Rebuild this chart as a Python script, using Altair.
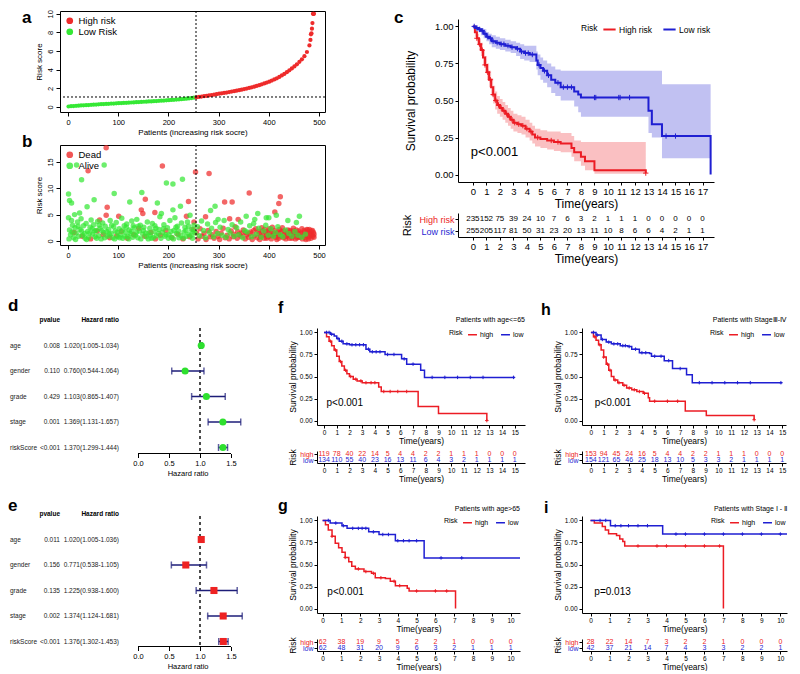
import altair as alt
import pandas as pd

FONT = "Liberation Sans"
KM_RED = "#ec1c24"
KM_BLUE = "#1f1fd2"
DOT_RED = "#ee2b2b"
DOT_GREEN = "#35e835"
NAVY = "#1d1d78"
PLUS = "M-1,0L1,0M0,-1L0,1"

# ---------------- panel a : sorted risk scores ----------------
a_low_patients = list(range(1, 256, 5))
a_low_scores = [0.05, 0.08, 0.10, 0.12, 0.14, 0.16, 0.18, 0.19, 0.21, 0.23,
                0.25, 0.26, 0.28, 0.30, 0.31, 0.33, 0.34, 0.36, 0.37, 0.39,
                0.40, 0.42, 0.43, 0.45, 0.46, 0.48, 0.49, 0.51, 0.52, 0.54,
                0.56, 0.57, 0.59, 0.60, 0.62, 0.64, 0.66, 0.67, 0.69, 0.71,
                0.73, 0.75, 0.77, 0.79, 0.81, 0.83, 0.86, 0.89, 0.92, 0.95, 0.99]
a_high_patients = list(range(256, 487, 5)) + [483, 484, 485, 487, 488, 489, 490]
a_high_scores = [1.04, 1.08, 1.12, 1.16, 1.20, 1.24, 1.28, 1.32, 1.37, 1.42,
                 1.46, 1.50, 1.55, 1.60, 1.65, 1.70, 1.75, 1.80, 1.86, 1.92,
                 1.98, 2.04, 2.11, 2.18, 2.26, 2.34, 2.43, 2.52, 2.62, 2.72,
                 2.83, 2.95, 3.08, 3.22, 3.38, 3.55, 3.73, 3.93, 4.13, 4.35,
                 4.58, 4.84, 5.12, 5.45, 5.90, 6.60, 8.40,
                 7.20, 7.80, 7.90, 9.00, 10.0, 10.0, 10.0]
a_cut_patient = 255
a_cut_score = 1.07

# ---------------- panel b : survival status ----------------
b_alive = [(1, 8.9), (3, 7.7), (7, 7.2), (17, 14.4), (27, 11.6), (72, 14.4), (52, 7.8), (38, 6.5),
           (92, 9.0), (123, 7.4), (147, 9.2), (178, 7.2), (196, 11.0), (209, 10.8), (228, 11.7),
           (224, 6.6), (209, 5.9), (284, 5.8), (293, 6.6), (186, 5.2), (299, 4.1), (355, 4.7),
           (378, 5.2), (395, 4.4), (400, 4.4), (415, 4.9), (438, 3.9), (455, 3.5), (461, 4.7),
           (372, 4.1), (1, 4.4), (13, 5.0), (23, 5.3), (7, 3.9),
           (3, 2.1), (5, 1.2), (9, 3.0), (11, 0.6), (14, 2.5), (16, 1.5), (19, 3.6), (21, 0.9),
           (24, 2.2), (26, 4.2), (29, 1.1), (31, 2.9), (34, 0.5), (36, 3.3), (39, 1.8), (41, 0.7),
           (44, 2.6), (46, 4.0), (49, 1.3), (51, 3.1), (54, 0.8), (56, 2.0), (59, 3.7), (61, 1.0),
           (64, 2.4), (66, 0.4), (69, 3.4), (71, 1.6), (74, 2.8), (79, 0.9), (81, 2.2), (84, 3.9),
           (86, 1.4), (89, 0.6), (91, 2.7), (94, 1.9), (96, 3.5), (99, 0.8), (102, 2.3), (104, 1.2),
           (107, 4.3), (109, 0.5), (112, 2.9), (114, 1.7), (117, 3.2), (119, 0.9), (122, 2.1),
           (124, 1.4), (127, 3.8), (129, 0.7), (132, 2.5), (134, 1.1), (137, 4.1), (139, 0.6),
           (142, 1.9), (144, 3.0), (149, 1.3), (151, 2.6), (156, 0.8), (158, 3.6), (161, 1.5),
           (163, 2.4), (166, 0.5), (168, 3.3), (171, 1.8), (173, 2.9), (176, 1.0), (181, 2.2),
           (183, 4.6), (188, 1.6), (191, 3.1), (193, 0.9), (198, 2.5), (201, 1.2), (203, 3.9),
           (206, 0.7), (211, 2.0), (213, 4.4), (216, 1.4), (218, 2.8), (221, 0.6), (226, 3.4),
           (231, 1.7), (233, 2.6), (236, 0.9), (238, 3.6), (241, 1.3), (243, 4.9), (246, 2.2),
           (248, 0.5), (251, 3.0), (253, 1.5), (258, 2.7), (262, 1.0), (266, 3.8), (270, 2.0),
           (274, 0.6), (278, 3.2), (282, 1.6), (286, 2.4), (290, 0.8), (294, 3.5), (298, 1.4),
           (303, 2.6), (307, 1.1), (311, 3.9), (315, 0.7), (319, 2.2), (323, 1.5), (327, 3.1),
           (331, 0.9), (336, 2.5), (340, 1.2), (344, 3.6), (348, 0.6), (352, 2.0), (357, 1.7),
           (362, 2.9), (366, 0.8), (370, 3.3), (375, 1.3), (380, 2.4), (385, 0.7), (390, 1.9),
           (394, 3.0), (399, 1.1), (404, 2.3), (409, 0.9), (413, 1.6), (418, 2.7), (423, 1.2),
           (428, 0.8), (433, 2.1), (440, 1.4), (446, 0.9), (452, 1.8), (458, 1.1), (466, 0.7),
           (473, 1.3),
           (2, 0.4), (8, 1.7), (15, 0.3), (20, 2.8), (27, 1.9), (33, 1.4), (37, 0.3), (43, 1.5),
           (48, 2.3), (53, 1.9), (57, 0.5), (62, 3.0), (67, 2.0), (73, 0.6), (77, 1.8), (82, 1.3),
           (87, 3.0), (93, 0.4), (98, 1.6), (103, 0.6), (108, 2.0), (113, 0.9), (116, 2.6),
           (121, 0.4), (126, 1.8), (130, 2.9), (136, 1.6), (140, 2.8), (145, 0.4), (150, 2.0),
           (155, 1.5), (160, 0.4), (164, 1.1), (170, 0.6), (175, 2.4), (180, 1.4), (185, 0.5),
           (190, 2.3), (195, 1.2), (200, 0.5), (205, 1.8), (210, 0.4), (215, 2.6), (220, 1.9),
           (225, 1.0), (230, 0.5), (235, 2.0), (240, 2.8), (245, 1.1), (250, 1.9)]
b_dead = [(76, 17.7), (40, 13.3), (188, 14.2), (254, 13.1), (281, 12.8), (78, 6.4), (154, 7.9),
          (240, 7.5), (312, 7.4), (327, 7.4), (361, 9.1), (423, 8.4), (420, 7.1), (412, 5.5),
          (146, 5.9), (149, 5.2), (173, 5.4), (101, 4.7), (76, 4.9), (236, 4.7), (274, 4.6),
          (339, 4.1), (322, 4.2), (251, 3.6),
          (12, 1.6), (28, 0.9), (45, 0.4), (58, 1.9), (63, 4.0), (70, 1.2), (83, 0.6), (97, 1.0),
          (106, 1.8), (118, 0.5), (131, 1.2), (141, 2.4), (153, 0.9), (165, 1.6), (174, 0.4),
          (184, 1.1), (195, 2.0), (207, 0.6), (219, 1.3), (229, 0.4), (242, 0.8), (249, 2.2),
          (256, 1.5), (259, 0.4), (263, 2.3), (267, 0.9), (271, 1.4), (275, 0.3), (279, 2.0),
          (283, 0.8), (287, 1.2), (291, 0.5), (295, 1.8), (299, 0.9), (302, 0.3), (305, 1.5),
          (309, 2.4), (313, 0.6), (317, 1.1), (321, 0.4), (325, 1.9), (329, 0.8), (333, 2.7),
          (337, 0.5), (341, 1.3), (345, 0.9), (349, 2.1), (353, 0.4), (356, 1.2), (360, 0.7),
          (364, 1.7), (367, 0.3), (371, 1.0), (374, 2.3), (377, 0.6), (381, 1.4), (384, 0.9),
          (387, 1.9), (391, 0.5), (395, 1.2), (398, 0.8), (402, 1.6), (405, 0.4), (408, 1.1),
          (411, 2.0), (414, 0.7), (417, 1.4), (420, 0.5), (423, 1.0), (426, 1.8), (429, 0.6),
          (432, 1.3), (435, 0.9), (438, 2.1), (441, 0.5), (444, 1.2), (447, 0.8), (450, 1.6),
          (453, 0.4), (456, 1.1), (459, 1.9), (462, 0.7), (465, 1.4), (468, 0.9), (470, 2.0),
          (473, 0.6), (475, 1.3), (478, 1.7), (480, 0.8), (482, 1.5), (484, 0.5), (486, 1.1),
          (488, 0.9), (489, 1.6), (490, 0.7), (477, 2.1), (481, 2.2), (485, 1.9), (471, 1.7),
          (466, 2.3), (458, 1.5), (449, 2.4), (443, 1.7), (436, 1.4), (427, 2.5), (419, 1.7),
          (410, 1.5), (401, 2.3), (393, 1.7), (386, 2.5), (379, 1.8), (370, 2.0), (362, 1.4),
          (354, 1.6), (346, 1.5), (338, 1.8), (330, 1.3),
          (382, 0.3), (388, 1.1), (392, 2.2), (396, 0.5), (400, 1.9), (404, 1.0), (407, 2.6),
          (412, 1.2), (416, 0.3), (421, 2.2), (425, 0.9), (430, 1.9), (434, 0.4), (437, 1.0),
          (442, 2.0), (446, 0.5), (451, 1.3), (455, 2.1), (460, 0.8), (463, 1.5), (467, 0.4),
          (472, 1.0), (476, 2.2), (479, 0.4), (483, 1.2), (487, 2.0), (490, 1.3), (474, 0.3),
          (457, 0.6), (448, 1.9)]
b_cut_patient = 255

# ---------------- panel c : KM all patients ----------------
c_high_t = [0, 0.15, 0.3, 0.45, 0.6, 0.75, 0.9, 1.05, 1.2, 1.35, 1.5, 1.65, 1.8, 2.0, 2.2, 2.4, 2.6,
            2.8, 3.0, 3.3, 3.6, 3.9, 4.2, 4.4, 4.6, 5.0, 5.5, 6.0, 6.5, 7.3, 7.5, 8.0, 8.3, 9.0, 12.8]
c_high_s = [1.0, 0.96, 0.92, 0.88, 0.84, 0.79, 0.74, 0.69, 0.64, 0.59, 0.54, 0.50, 0.47, 0.45, 0.43,
            0.41, 0.39, 0.37, 0.35, 0.34, 0.33, 0.31, 0.29, 0.27, 0.25, 0.24, 0.23, 0.22, 0.21, 0.18,
            0.15, 0.12, 0.09, 0.03, 0.01]
c_high_up = [1.0, 0.98, 0.95, 0.92, 0.89, 0.84, 0.80, 0.75, 0.70, 0.65, 0.60, 0.56, 0.53, 0.51, 0.49,
             0.47, 0.45, 0.43, 0.41, 0.40, 0.39, 0.37, 0.35, 0.33, 0.31, 0.30, 0.29, 0.29, 0.28, 0.26,
             0.23, 0.22, 0.22, 0.22, 0.22]
c_high_lo = [1.0, 0.93, 0.89, 0.84, 0.80, 0.74, 0.69, 0.64, 0.59, 0.53, 0.48, 0.44, 0.41, 0.39, 0.37,
             0.35, 0.33, 0.31, 0.29, 0.28, 0.27, 0.25, 0.23, 0.21, 0.19, 0.18, 0.17, 0.16, 0.15, 0.12,
             0.09, 0.06, 0.03, 0.005, 0.0]
c_low_t = [0, 0.2, 0.4, 0.6, 0.8, 1.0, 1.2, 1.4, 1.7, 2.0, 2.4, 2.8, 3.2, 3.5, 3.8, 4.2, 4.7, 4.8,
           5.0, 5.2, 5.5, 5.8, 6.1, 6.5, 7.5, 7.8, 8.0, 13.0, 13.25, 14.0, 17.6]
c_low_s = [1.0, 0.99, 0.98, 0.97, 0.95, 0.93, 0.92, 0.90, 0.89, 0.88, 0.87, 0.86, 0.85, 0.83, 0.82,
           0.81, 0.77, 0.74, 0.72, 0.70, 0.67, 0.64, 0.62, 0.59, 0.56, 0.54, 0.52, 0.43, 0.34, 0.26, 0.0]
c_low_up = [1.0, 1.0, 0.995, 0.99, 0.98, 0.96, 0.95, 0.94, 0.93, 0.92, 0.91, 0.90, 0.89, 0.88, 0.87,
            0.87, 0.83, 0.81, 0.79, 0.77, 0.75, 0.73, 0.71, 0.70, 0.70, 0.70, 0.70, 0.70, 0.70, 0.61, 0.61]
c_low_lo = [1.0, 0.97, 0.96, 0.94, 0.92, 0.90, 0.88, 0.86, 0.85, 0.84, 0.83, 0.82, 0.80, 0.78, 0.77,
            0.76, 0.71, 0.67, 0.64, 0.62, 0.59, 0.55, 0.53, 0.50, 0.46, 0.42, 0.39, 0.28, 0.25, 0.11, 0.11]
c_cens_high = [0.3, 0.5, 0.7, 0.9, 1.1, 1.3, 1.5, 1.7, 1.9, 2.1, 2.3, 2.5, 2.7, 2.9, 3.1, 3.4, 3.7,
               4.0, 4.3, 4.8, 5.8, 6.3, 12.8]
c_cens_low = [0.1, 0.3, 0.5, 0.7, 0.9, 1.1, 1.3, 1.5, 1.8, 2.1, 2.3, 2.6, 2.9, 3.3, 3.6, 3.9, 4.1,
              4.4, 4.9, 5.3, 5.6, 6.3, 6.7, 7.0, 7.3, 9.0, 9.1, 10.8, 10.9, 11.6, 14.3, 15.0]
c_times = list(range(0, 18))
c_risk_high = [235, 152, 75, 39, 24, 10, 7, 6, 3, 2, 1, 1, 1, 0, 0, 0, 0, 0]
c_risk_low = [255, 205, 117, 81, 50, 31, 23, 20, 13, 11, 10, 8, 6, 6, 4, 2, 1, 1]

# ---------------- panels d / e : forest plots ----------------
forest_vars = ["age", "gender", "grade", "stage", "riskScore"]
forest_rows = [1, 2, 3, 4, 5]
d_p = ["0.008", "0.110", "0.429", "0.001", "<0.001"]
d_hr = [1.020, 0.760, 1.103, 1.369, 1.370]
d_lo = [1.005, 0.544, 0.865, 1.131, 1.299]
d_hi = [1.034, 1.064, 1.407, 1.657, 1.444]
e_p = ["0.011", "0.156", "0.135", "0.002", "<0.001"]
e_hr = [1.020, 0.771, 1.225, 1.374, 1.376]
e_lo = [1.005, 0.538, 0.938, 1.124, 1.302]
e_hi = [1.036, 1.105, 1.600, 1.681, 1.453]
hr_ticks = [0, 0.5, 1.0, 1.5]
hr_ref = 1.0

# ---------------- panel f : age <= 65 ----------------
f_high_t = [0, 0.2, 0.4, 0.6, 0.8, 1.0, 1.2, 1.4, 1.6, 1.8, 2.0, 2.3, 2.6, 3.0, 4.3, 4.5, 7.4, 9.0, 12.8]
f_high_s = [1.0, 0.95, 0.90, 0.85, 0.80, 0.73, 0.67, 0.62, 0.57, 0.53, 0.50, 0.47, 0.45, 0.43, 0.38,
            0.33, 0.16, 0.08, 0.0]
f_low_t = [0, 0.5, 0.8, 1.0, 1.2, 1.5, 2.0, 3.3, 3.6, 4.8, 6.1, 6.5, 7.6, 7.9, 15.0]
f_low_s = [1.0, 0.98, 0.96, 0.93, 0.90, 0.87, 0.86, 0.81, 0.78, 0.75, 0.70, 0.64, 0.57, 0.49, 0.49]
f_cens_high = [0.5, 0.9, 1.3, 1.7, 2.1, 2.5, 2.9, 3.3, 3.7, 4.0, 4.7, 5.2, 5.8, 6.5, 12.8]
f_cens_low = [0.2, 0.4, 0.6, 1.1, 1.4, 1.8, 2.2, 2.5, 2.8, 3.1, 3.5, 3.8, 4.1, 4.4, 5.0, 5.5, 6.3,
              7.0, 8.5, 9.5, 10.5, 11.5, 12.5, 14.9]
f_times = list(range(0, 16))
f_risk_high = [119, 78, 40, 22, 14, 5, 4, 4, 2, 2, 1, 1, 1, 0, 0, 0]
f_risk_low = [134, 110, 55, 40, 23, 16, 13, 11, 6, 4, 3, 2, 1, 1, 1, 1]

# ---------------- panel h : stage III-IV ----------------
h_high_t = [0, 0.2, 0.4, 0.6, 0.8, 1.0, 1.2, 1.4, 1.6, 1.8, 2.1, 2.5, 2.8, 3.2, 3.6, 4.1, 4.5, 4.6,
            7.4, 9.05, 12.8]
h_high_s = [1.0, 0.95, 0.91, 0.86, 0.80, 0.72, 0.64, 0.57, 0.50, 0.46, 0.43, 0.40, 0.37, 0.35, 0.33,
            0.31, 0.26, 0.22, 0.11, 0.057, 0.01]
h_low_t = [0, 0.4, 0.8, 1.2, 1.6, 2.3, 2.9, 3.2, 3.8, 4.6, 4.75, 5.75, 6.4, 7.5, 7.95, 15.0]
h_low_s = [1.0, 0.97, 0.92, 0.89, 0.87, 0.85, 0.84, 0.81, 0.77, 0.76, 0.73, 0.68, 0.59, 0.52, 0.43, 0.43]
h_cens_high = [0.3, 0.7, 1.0, 1.3, 1.5, 1.9, 2.2, 2.6, 3.0, 3.4, 3.8, 4.2, 5.0, 6.0, 6.8, 12.8]
h_cens_low = [0.2, 0.5, 0.9, 1.4, 1.8, 2.1, 2.5, 2.7, 3.0, 3.5, 4.0, 4.3, 5.0, 5.5, 6.1, 7.0, 8.5,
              9.5, 10.5, 11.5, 12.5, 14.9]
h_times = list(range(0, 16))
h_risk_high = [153, 94, 45, 24, 16, 5, 4, 4, 2, 2, 1, 1, 1, 0, 0, 0]
h_risk_low = [154, 121, 65, 46, 25, 18, 13, 10, 5, 3, 3, 2, 1, 1, 1, 1]

# ---------------- panel g : age > 65 ----------------
g_high_t = [0, 0.15, 0.3, 0.5, 0.67, 0.85, 1.03, 1.2, 1.39, 1.55, 1.74, 2.2, 2.6, 2.8, 3.34, 3.6,
            3.87, 4.5, 4.6, 7.07]
g_high_s = [1.0, 0.95, 0.89, 0.82, 0.74, 0.69, 0.64, 0.58, 0.53, 0.48, 0.45, 0.42, 0.40, 0.35, 0.34,
            0.31, 0.26, 0.23, 0.20, 0.0]
g_low_t = [0, 0.4, 1.03, 1.3, 2.45, 3.0, 3.87, 5.4, 10.5]
g_low_s = [1.0, 0.97, 0.94, 0.91, 0.87, 0.84, 0.77, 0.575, 0.575]
g_cens_high = [0.5, 1.2, 1.9, 2.3, 2.7, 3.1, 3.8, 4.1, 5.0, 6.0, 6.6]
g_cens_low = [0.3, 0.7, 1.1, 1.6, 1.9, 2.1, 2.3, 2.7, 3.2, 3.5, 4.0, 4.3, 4.6, 5.0, 6.3, 7.4]
g_times = list(range(0, 11))
g_risk_high = [62, 38, 19, 9, 5, 2, 2, 1, 0, 0, 0]
g_risk_low = [62, 48, 31, 20, 9, 6, 3, 2, 1, 1, 1]

# ---------------- panel i : stage I-II ----------------
i_high_t = [0, 0.2, 0.62, 0.78, 0.95, 1.37, 1.54, 1.7, 1.8, 7.0]
i_high_s = [1.0, 0.97, 0.93, 0.89, 0.85, 0.83, 0.79, 0.76, 0.71, 0.0]
i_low_t = [0, 1.05, 3.8, 10.35]
i_low_s = [1.0, 0.94, 0.845, 0.845]
i_cens_high = [2.5, 3.5, 4.0, 5.0, 6.0, 6.8]
i_cens_low = [0.5, 0.8, 1.3, 1.6, 2.0, 2.5, 3.0, 4.5, 5.0, 6.0, 7.0, 8.0, 9.0, 10.0]
i_times = list(range(0, 11))
i_risk_high = [28, 22, 14, 7, 3, 2, 2, 1, 0, 0, 0]
i_risk_low = [42, 37, 21, 14, 7, 4, 3, 3, 2, 2, 1]


# =====================================================================
def step_at(ts, ss, t):
    v = ss[0]
    for ti, si in zip(ts, ss):
        if ti <= t:
            v = si
    return v


def letter_layer(ch, dx, dy, size=17, baseline="alphabetic"):
    return alt.Chart(pd.DataFrame({"l": [ch]})).mark_text(
        align="left", baseline=baseline, fontSize=size, fontWeight="bold", color="black"
    ).encode(x=alt.value(dx), y=alt.value(dy), text="l:N")


def r_axis_x(title):
    return alt.Axis(values=[0, 100, 200, 300, 400, 500], domain=False, ticks=True, tickSize=4,
                    labelFontSize=7.5, titleFontSize=8, labelPadding=2, titlePadding=3,
                    title=title, labelFlush=False)


def r_axis_y(vals, title):
    return alt.Axis(values=vals, domain=False, ticks=True, tickSize=4, labelFontSize=7.5,
                    titleFontSize=8, labelAngle=270, labelAlign="center", labelBaseline="bottom",
                    labelPadding=2, titlePadding=3, title=title)


FRAME = alt.ViewBackground(stroke="black", strokeWidth=1)
AB_XS = alt.Scale(domain=[-16, 512], nice=False, zero=False)
XTITLE_AB = "Patients (increasing risk socre)"

# ---- a ----
a_df = pd.DataFrame({"patient": a_low_patients + a_high_patients,
                     "score": a_low_scores + a_high_scores,
                     "grp": ["Low Risk"] * len(a_low_scores) + ["High risk"] * len(a_high_scores)})
a_ys = alt.Scale(domain=[-0.54, 10.3], nice=False, zero=False)
a_yax = r_axis_y([0, 2, 4, 6, 8, 10], "Risk score")
a_pts = alt.Chart(a_df).mark_circle(size=18, opacity=1).encode(
    x=alt.X("patient:Q", scale=AB_XS, axis=r_axis_x(XTITLE_AB), title=XTITLE_AB),
    y=alt.Y("score:Q", scale=a_ys, axis=a_yax, title="Risk score"),
    color=alt.Color("grp:N", scale=alt.Scale(domain=["High risk", "Low Risk"], range=[DOT_RED, DOT_GREEN]),
                    legend=alt.Legend(title=None, orient="top-left", symbolType="circle", symbolSize=45,
                                      labelFontSize=9.5, offset=3, padding=2, rowPadding=0, labelOffset=4)))
a_cut = alt.Chart(pd.DataFrame({"p": [a_cut_patient], "s": [a_cut_score]}))
a_v = a_cut.mark_rule(strokeDash=[2, 2], color="black", strokeWidth=1).encode(
    x=alt.X("p:Q", scale=AB_XS, axis=r_axis_x(XTITLE_AB), title=XTITLE_AB))
a_h = a_cut.mark_rule(strokeDash=[2, 2], color="black", strokeWidth=1).encode(
    y=alt.Y("s:Q", scale=a_ys, axis=a_yax, title="Risk score"))
chart_a = alt.layer(a_pts, a_v, a_h, letter_layer("a", -38, -1, 17, "top")).properties(
    width=265, height=101, view=FRAME)

# ---- b ----
b_df = pd.DataFrame({"patient": [p for p, _ in b_dead] + [p for p, _ in b_alive],
                     "time": [v for _, v in b_dead] + [v for _, v in b_alive],
                     "status": ["Dead"] * len(b_dead) + ["Alive"] * len(b_alive)})
b_ys = alt.Scale(domain=[-0.76, 18.2], nice=False, zero=False)
b_yax = r_axis_y([0, 5, 10, 15], "Risk score")
b_pts = alt.Chart(b_df).mark_circle(size=30, opacity=0.72).encode(
    x=alt.X("patient:Q", scale=AB_XS, axis=r_axis_x(XTITLE_AB), title=XTITLE_AB),
    y=alt.Y("time:Q", scale=b_ys, axis=b_yax, title="Risk score"),
    color=alt.Color("status:N", scale=alt.Scale(domain=["Dead", "Alive"], range=[DOT_RED, DOT_GREEN]),
                    legend=alt.Legend(title=None, orient="top-left", symbolType="circle", symbolSize=45,
                                      labelFontSize=9.5, offset=3, padding=2, rowPadding=0, labelOffset=4,
                                      symbolOpacity=0.8)))
b_v = alt.Chart(pd.DataFrame({"p": [b_cut_patient]})).mark_rule(
    strokeDash=[2, 2], color="black", strokeWidth=1).encode(
    x=alt.X("p:Q", scale=AB_XS, axis=r_axis_x(XTITLE_AB), title=XTITLE_AB))
chart_b = alt.layer(b_pts, b_v, letter_layer("b", -38, -11, 17, "top")).properties(
    width=265, height=100, view=FRAME)


# ---- KM panels ----
def km_panel(labels, curves, cens, risk, times, xdom, W, H, fs, pval, pval_pos, letter, letter_pos,
             trange, toff, bands=None, sub=None, sub_y=-6, table_colored=True, letter_base="alphabetic"):
    colors = [KM_RED, KM_BLUE]
    rows = []
    for lab, (ts, ss) in zip(labels, curves):
        rows += [{"t": t, "s": s, "grp": lab} for t, s in zip(ts, ss)]
    cdf = pd.DataFrame(rows)
    crow = []
    for lab, (ts, ss), ct in zip(labels, curves, cens):
        crow += [{"t": t, "s": step_at(ts, ss, t), "grp": lab} for t in ct]
    cen_df = pd.DataFrame(crow)
    trows = []
    for lab, ns in zip(labels, risk):
        trows += [{"t": t, "n": n, "grp": lab} for t, n in zip(times, ns)]
    tdf = pd.DataFrame(trows)

    xs = alt.Scale(domain=xdom, nice=False, zero=False)
    ys = alt.Scale(domain=[-0.05, 1.05], nice=False, zero=False)
    xax = alt.Axis(values=times, format="d", labelFontSize=fs["tick"], titleFontSize=fs["title"],
                   tickSize=3, labelPadding=1, titlePadding=fs["xtp"], labelFlush=False,
                   labelOverlap=False)
    yax = alt.Axis(values=[0, 0.25, 0.5, 0.75, 1.0], format=".2f", labelFontSize=fs["tick"],
                   titleFontSize=fs["title"], tickSize=3, labelPadding=2, titlePadding=fs["ytp"])

    def X(f):
        return alt.X(f, scale=xs, axis=xax, title="Time(years)")

    def Y(f):
        return alt.Y(f, scale=ys, axis=yax, title="Survival probability")

    cscale = alt.Scale(domain=labels, range=colors)
    leg = alt.Legend(title="Risk", orient="top-right", direction="horizontal", titleOrient="left",
                     symbolType="stroke", symbolStrokeWidth=fs["lw"], symbolSize=fs["sym"],
                     labelFontSize=fs["leg"], titleFontSize=fs["leg"], titleFontWeight="normal",
                     offset=fs["legoff"], padding=0, columnPadding=fs["colpad"], labelOffset=2,
                     titlePadding=4, symbolOpacity=1)
    color = alt.Color("grp:N", scale=cscale, legend=leg)
    layers = []
    if bands:
        brow = []
        for lab, (ts, lo, hi) in zip(labels, bands):
            brow += [{"t": t, "lo": a, "hi": b, "grp": lab} for t, a, b in zip(ts, lo, hi)]
        layers.append(alt.Chart(pd.DataFrame(brow)).mark_area(interpolate="step-after", opacity=0.28).encode(
            x=X("t:Q"), y=Y("lo:Q"), y2="hi:Q", color=color))
    layers.append(alt.Chart(cdf).mark_line(interpolate="step-after", strokeWidth=fs["lw"]).encode(
        x=X("t:Q"), y=Y("s:Q"), color=color))
    layers.append(alt.Chart(cen_df).mark_point(shape=PLUS, size=fs["cens"], filled=False, strokeWidth=1,
                                               opacity=1).encode(x=X("t:Q"), y=Y("s:Q"), color=color))
    layers.append(alt.Chart(pd.DataFrame({"t": [pval_pos[0]], "s": [pval_pos[1]], "lab": [pval]})).mark_text(
        align="left", baseline="middle", fontSize=fs["p"], color="black").encode(
        x=X("t:Q"), y=Y("s:Q"), text="lab:N"))
    layers.append(letter_layer(letter, letter_pos[0], letter_pos[1], fs["let"], letter_base))
    if sub:
        layers.append(alt.Chart(pd.DataFrame({"l": [sub]})).mark_text(
            align="right", baseline="alphabetic", fontSize=fs["sub"], color="black").encode(
            x=alt.value(W), y=alt.value(sub_y), text="l:N"))
    km = alt.layer(*layers)

    tx = alt.X("t:Q", scale=alt.Scale(domain=xdom, nice=False, zero=False),
               axis=alt.Axis(orient="bottom", offset=toff, values=times, format="d",
                             labelFontSize=fs["tick"], titleFontSize=fs["title"], tickSize=3,
                             labelPadding=1, titlePadding=fs["xtp"], labelFlush=False,
                             labelOverlap=False),
               title="Time(years)")
    ty = alt.Y("grp:N", scale=alt.Scale(type="point", domain=labels, range=trange, padding=0.5),
               axis=alt.Axis(orient="left",
                             labelColor={"condition": {"test": "datum.value == '%s'" % labels[0],
                                                       "value": colors[0]}, "value": colors[1]},
                             labelFontSize=fs["tlab"], titleFontSize=fs["ttitle"], tickSize=3,
                             labelPadding=1, titlePadding=fs["ttp"]),
               title="Risk")
    if table_colored:
        tbl = alt.Chart(tdf).mark_text(fontSize=fs["tnum"], baseline="middle").encode(
            x=tx, y=ty, text="n:Q", color=color)
    else:
        tbl = alt.Chart(tdf).mark_text(fontSize=fs["tnum"], baseline="middle", color="black").encode(
            x=tx, y=ty, text="n:Q")
    return alt.layer(km, tbl).resolve_scale(x="independent", y="independent").properties(width=W, height=H)


BIG = dict(tick=9.5, title=12, xtp=3, ytp=17, leg=8.5, lw=2, sym=150, legoff=3, colpad=6, cens=28,
           p=13, let=17, tlab=9, tnum=8, ttitle=11, ttp=6)
SM = dict(tick=6.5, title=8.5, xtp=1, ytp=2, leg=7, lw=1.5, sym=80, legoff=1, colpad=4, cens=12,
          p=10, let=16, tlab=7, tnum=7, ttitle=8.5, ttp=2, sub=7)

chart_c = km_panel(["High risk", "Low risk"], [(c_high_t, c_high_s), (c_low_t, c_low_s)],
                   [c_cens_high, c_cens_low], [c_risk_high, c_risk_low], c_times, [-1.1, 17.85],
                   256, 163, BIG, "p<0.001", (-0.15, 0.155), "c", (-64, -9), [194, 218], 55,
                   bands=[(c_high_t, c_high_lo, c_high_up), (c_low_t, c_low_lo, c_low_up)],
                   table_colored=False, letter_base="top")

TR = [123, 135]
TOFF = 38
chart_f = km_panel(["high", "low"], [(f_high_t, f_high_s), (f_low_t, f_low_s)], [f_cens_high, f_cens_low],
                   [f_risk_high, f_risk_low], f_times, [-0.55, 15.8], 208, 97, SM, "p<0.001", (0.2, 0.2),
                   "f", (-39, -15.5), TR, TOFF, sub="Patients with age<=65", sub_y=-6)
chart_h = km_panel(["high", "low"], [(h_high_t, h_high_s), (h_low_t, h_low_s)], [h_cens_high, h_cens_low],
                   [h_risk_high, h_risk_low], h_times, [-0.7, 15.3], 204, 97, SM, "p<0.001", (0.3, 0.2),
                   "h", (-41, -13.5), TR, TOFF, sub="Patients with Stage\u2162-\u2163", sub_y=-6)
chart_g = km_panel(["high", "low"], [(g_high_t, g_high_s), (g_low_t, g_low_s)], [g_cens_high, g_cens_low],
                   [g_risk_high, g_risk_low], g_times, [-0.3, 10.5], 203, 97, SM, "p<0.001", (0.25, 0.19),
                   "g", (-39, -5.5), TR, TOFF, sub="Patients with age>65", sub_y=-5)
chart_i = km_panel(["high", "low"], [(i_high_t, i_high_s), (i_low_t, i_low_s)], [i_cens_high, i_cens_low],
                   [i_risk_high, i_risk_low], i_times, [-0.45, 10.35], 205, 97, SM, "p=0.013", (0.2, 0.19),
                   "i", (-38, -3.5), TR, TOFF, sub="Patients with Stage \u2160 - \u2161", sub_y=-5)

# ---- forest (plot area starts at the table's p-value column) ----
F_PX = 62.0                 # pixels per hazard-ratio unit
F_ROW = 25.5                # pixels per table row
F_LEFT, F_RIGHT = 78, 122   # pixels left / right of HR = 0
F_W = F_LEFT + F_RIGHT


def forest(pv, hr, lo, hi, pt_color, pt_shape, letter, letter_y, first_row_px, height):
    r0 = 1 - first_row_px / F_ROW
    r1 = r0 + height / F_ROW
    df = pd.DataFrame({"var": forest_vars, "r": forest_rows, "p": pv, "hr": hr, "lo": lo, "hi": hi})
    df["txt"] = ["%.3f(%.3f-%.3f)" % (a, b, c) for a, b, c in zip(hr, lo, hi)]
    xs = alt.Scale(domain=[-F_LEFT / F_PX, F_RIGHT / F_PX], nice=False, zero=False)
    ys = alt.Scale(domain=[r0, r1], nice=False, zero=False, reverse=True)
    xax = alt.Axis(values=hr_ticks, format=".1f", domain=False, tickSize=4, labelFontSize=7.5,
                   titleFontSize=7.5, labelPadding=2, titlePadding=2, labelFlush=False,
                   titleX=F_LEFT + 0.8 * F_PX)

    def X(f):
        return alt.X(f, scale=xs, axis=xax, title="Hazard ratio")

    Y = alt.Y("r:Q", scale=ys, axis=None)
    base = alt.Chart(df)
    hdf = alt.Chart(pd.DataFrame({"r": [0], "a": ["pvalue"], "b": ["Hazard ratio"]}))
    layers = [
        base.mark_text(align="left", fontSize=6.5, color="#222").encode(x=alt.value(-50), y=Y, text="var:N"),
        base.mark_text(align="right", fontSize=6.5, color="#222").encode(x=alt.value(0), y=Y, text="p:N"),
        base.mark_text(align="right", fontSize=6.5, color="#222").encode(x=alt.value(59), y=Y, text="txt:N"),
        hdf.mark_text(align="right", fontSize=6.5, fontWeight="bold").encode(x=alt.value(0), y=Y, text="a:N"),
        hdf.mark_text(align="right", fontSize=6.5, fontWeight="bold").encode(x=alt.value(59), y=Y, text="b:N"),
        alt.Chart(pd.DataFrame({"ref": [hr_ref]})).mark_rule(strokeDash=[3, 3], strokeWidth=1.4,
                                                             color="black").encode(x=X("ref:Q")),
        base.mark_rule(color=NAVY, strokeWidth=1.5).encode(x=X("lo:Q"), x2="hi:Q", y=Y),
        base.mark_tick(orient="vertical", size=7, thickness=1.5, color=NAVY).encode(x=X("lo:Q"), y=Y),
        base.mark_tick(orient="vertical", size=7, thickness=1.5, color=NAVY).encode(x=X("hi:Q"), y=Y),
        base.mark_point(shape=pt_shape, filled=True, size=50, color=pt_color, opacity=1).encode(x=X("hr:Q"), y=Y),
        alt.Chart(pd.DataFrame({"a": [hr_ticks[0]], "b": [hr_ticks[-1]], "r": [r1]})).mark_rule(
            color="black", strokeWidth=1).encode(x=X("a:Q"), x2="b:Q", y=Y),
        letter_layer(letter, -52, letter_y, 17),
    ]
    return alt.layer(*layers).properties(width=F_W, height=height)


chart_d = forest(d_p, d_hr, d_lo, d_hi, "#2ee02e", "circle", "d", -17.5, 17.5, 125.5)
chart_e = forest(e_p, e_hr, e_lo, e_hi, "#ee2222", "square", "e", -5.5, 23.5, 130.5)

# ---- layout ----
c_gap = alt.Chart(pd.DataFrame({"v": [0]})).mark_point(opacity=0).encode(
    x=alt.value(0), y=alt.value(0)).properties(width=10, height=8)
C_COL = alt.vconcat(c_gap, chart_c, spacing=0, bounds="flush").resolve_scale(color="independent")
AB = alt.vconcat(chart_a, chart_b, spacing=33, bounds="flush").resolve_scale(color="independent")
TOP = alt.hconcat(AB, C_COL, spacing=68).resolve_scale(color="independent")
GRID = alt.concat(chart_d, chart_f, chart_h, chart_e, chart_g, chart_i, columns=3,
                  spacing={"row": 62, "column": 57}, bounds="flush", align="each").resolve_scale(
    color="independent")
chart = alt.vconcat(TOP, GRID, spacing=26).resolve_scale(color="independent").properties(padding=0)

chart = chart.configure(font=FONT).configure_view(stroke=None).configure_axis(
    grid=False, domainColor="black", tickColor="black", labelColor="black", titleColor="black",
    titleFontWeight="normal", domainWidth=1, tickWidth=1)

chart.save("out.html", embed_options={"renderer": "svg", "actions": False})
